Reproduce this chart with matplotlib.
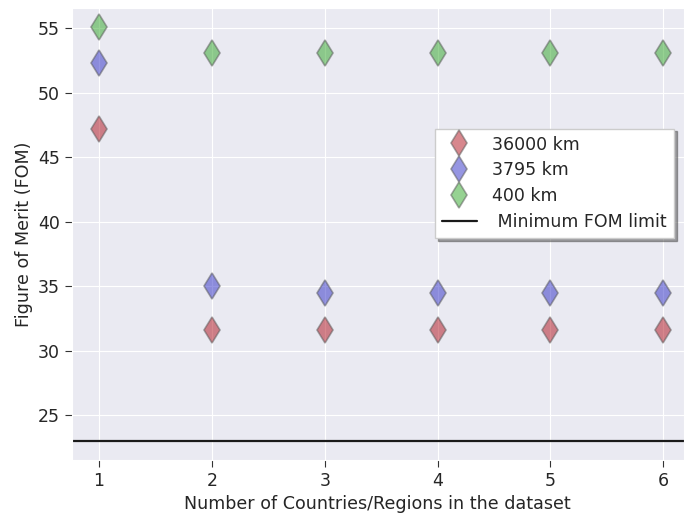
import numpy as np
import matplotlib
matplotlib.use("Agg")
import matplotlib.pyplot as plt
import seaborn as sns

sns.set_style("darkgrid", {"xtick.bottom": True, "ytick.left": True})

n_regions = [1, 2, 3, 4, 5, 6]
fom_36000 = [47.2, 31.6, 31.6, 31.6, 31.6, 31.6]
fom_3795 = [52.3, 35.0, 34.5, 34.5, 34.5, 34.5]
fom_400 = [55.1, 53.1, 53.1, 53.1, 53.1, 53.1]
fom_limit = 23.0

fig, ax = plt.subplots(figsize=(6.85, 5.17), dpi=100)

series = [
    (fom_36000, "#b0101c", "36000 km"),
    (fom_3795, "#2e2ec6", "3795 km"),
    (fom_400, "#2ea626", "400 km"),
]
for vals, col, lab in series:
    ax.plot(n_regions, vals, linestyle="none", marker="d", markersize=13,
            markerfacecolor=col, markeredgecolor="#555555", markeredgewidth=1.2,
            alpha=0.5, label=lab)

ax.axhline(fom_limit, color="#1a1a1a", linewidth=1.6, label=" Minimum FOM limit")

ax.set_xlim(0.76, 6.18)
ax.set_ylim(21.5, 56.6)
ax.set_yticks([25, 30, 35, 40, 45, 50, 55])
ax.tick_params(labelsize=12.5, length=5, color="#333333")
ax.set_xlabel("Number of Countries/Regions in the dataset", fontsize=12.6)
ax.set_ylabel("Figure of Merit (FOM)", fontsize=12.6)

leg = ax.legend(loc="upper right", bbox_to_anchor=(0.998, 0.752), fontsize=12.5,
                frameon=True, shadow=True, fancybox=False, facecolor="white",
                edgecolor="#cccccc", framealpha=1.0, handletextpad=0.9,
                labelspacing=0.45)

fig.subplots_adjust(left=0.105, right=0.998, top=0.985, bottom=0.11)
fig.savefig("out.png", dpi=100)
